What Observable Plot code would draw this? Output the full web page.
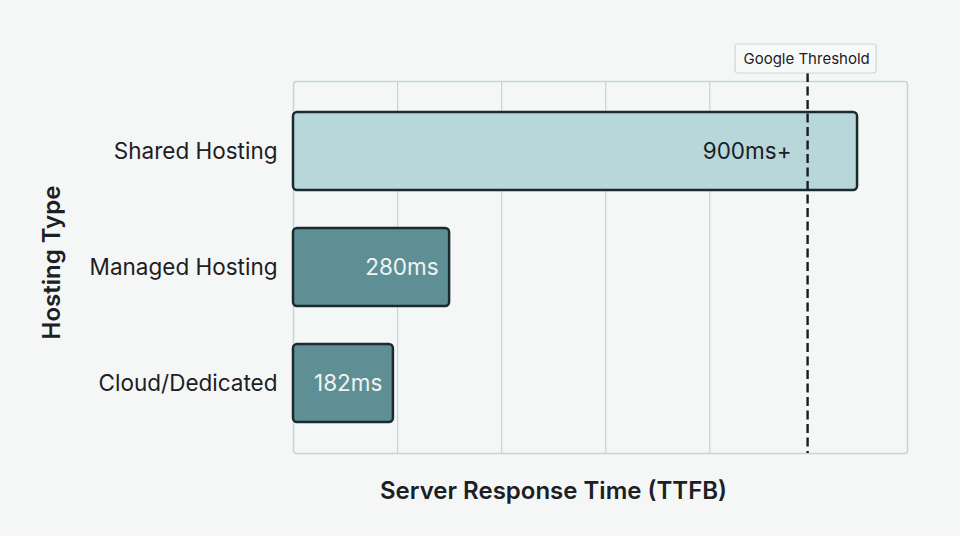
<!DOCTYPE html>
<html><head><meta charset="utf-8">
<script src="https://cdn.jsdelivr.net/npm/d3@7"></script>
<script src="https://cdn.jsdelivr.net/npm/@observablehq/plot@0.6"></script>
<style>
html,body{margin:0;padding:0;background:#f5f7f7;}
#chart svg{display:block;}
</style></head><body><div id="chart"></div>
<script>
// Data
const categories = ["Shared Hosting", "Managed Hosting", "Cloud/Dedicated"];
const responseMs = [1084, 300, 192];          // bar lengths as drawn
const valueLabels = ["900ms+", "280ms", "182ms"];
const tiers = ["light", "dark", "dark"];
const gridTicks = [200, 400, 600, 800];
const thresholdMs = [988];
const thresholdLabel = ["Google Threshold"];
const xTitle = ["Server Response Time (TTFB)"];
const yTitle = ["Hosting Type"];

const data = categories.map((c, i) => ({category: c, ms: responseMs[i], label: valueLabels[i], tier: tiers[i]}));
const ink = "#1c2024";
const gridColor = "#bed7da";

const chart = Plot.plot({
  width: 960, height: 536,
  marginLeft: 293, marginRight: 53, marginTop: 81, marginBottom: 83,
  style: {background: "transparent", fontFamily: "Inter, 'Noto Sans', sans-serif", fontSize: "22.5px", color: ink},
  x: {domain: [0, 1180], axis: null},
  y: {domain: categories, paddingInner: 0.33, paddingOuter: 0.267, tickSize: 0, tickPadding: 16, label: null},
  color: {type: "ordinal", domain: ["light", "dark"], range: ["#b8d7da", "#5e8f94"]},
  marks: [
    Plot.ruleX(gridTicks, {stroke: gridColor, strokeWidth: 1.2}),
    Plot.frame({stroke: gridColor, strokeWidth: 1.5, rx: 3}),
    Plot.barX(data, {x: "ms", y: "category", fill: "tier", stroke: "#1b2a2e", strokeWidth: 2.5, rx: 4}),
    Plot.ruleX(thresholdMs, {stroke: "#1a1d1f", strokeWidth: 2.4, strokeDasharray: "9,4.5", insetTop: -8}),
    Plot.rect(thresholdMs, {x1: d => d, x2: d => d, insetLeft: -72, insetRight: -69, insetTop: -37, insetBottom: 380,
      rx: 3, fill: "#f8fafa", stroke: "#c9d8da", strokeWidth: 1.2}),
    Plot.text(data.filter(d => d.tier === "dark"), {x: "ms", y: "category", text: "label", textAnchor: "end", dx: -11, fill: "#eef4f4", fontSize: 22.5}),
    Plot.text(data.filter(d => d.tier === "light"), {x: "ms", y: "category", text: "label", textAnchor: "end", dx: -66, fill: ink, fontSize: 22.5}),
    Plot.text(thresholdMs, {x: d => d, text: thresholdLabel, frameAnchor: "top", textAnchor: "middle", lineAnchor: "middle", dy: -22, dx: -1, fontSize: 15, fill: ink}),
    Plot.text(yTitle, {frameAnchor: "left", textAnchor: "middle", lineAnchor: "middle", dx: -241, dy: -5, rotate: -90, fontSize: 24, fontWeight: 600, fill: ink}),
    Plot.text(xTitle, {frameAnchor: "bottom", textAnchor: "middle", lineAnchor: "middle", dx: -47, dy: 38, fontSize: 24, fontWeight: 600, fill: ink})
  ]
});
document.getElementById("chart").append(chart);
</script>
</body></html>
